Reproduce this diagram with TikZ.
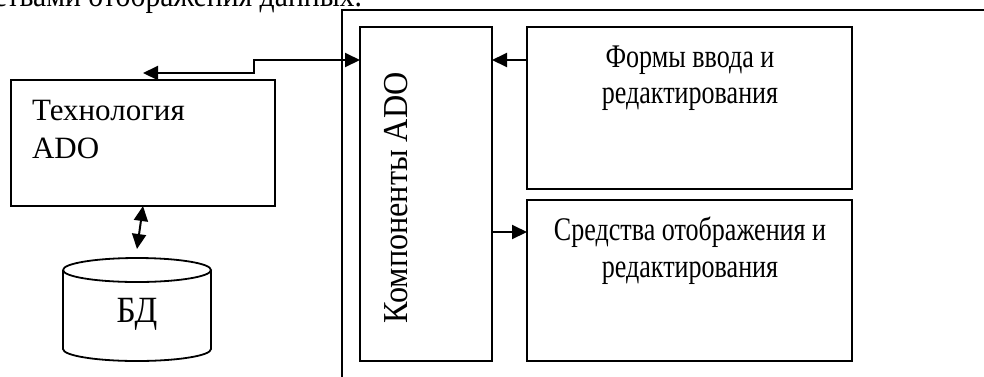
\documentclass[tikz,border=0pt]{standalone}
\usepackage{fontspec}
\setmainfont{Liberation Serif}
\usetikzlibrary{arrows.meta}
\newcommand{\sx}[2]{\scalebox{#1}[1]{#2}}
\begin{document}
\begin{tikzpicture}[x=1pt,y=-1pt,
  box/.style={draw,line width=1.8pt,inner sep=0pt,outer sep=0pt},
  lbl/.style={inner sep=0pt,outer sep=0pt,font=\fontsize{33}{37}\selectfont,anchor=base},
  arr/.style={line width=2pt,-{Triangle[length=15pt,width=14pt]}},
  dbl/.style={line width=2pt,{Triangle[length=15pt,width=14pt]}-{Triangle[length=15pt,width=14pt]}}]
\useasboundingbox (0,0) rectangle (984,376);
\clip (0,0) rectangle (984,376);
% cut-off text at top
\node[lbl,anchor=base east] (toptxt) at (362,6) {\sx{0.9}{ствами отображения данных.}};
% outer frame (cut by the page)
\draw[line width=1.8pt] (1100,10) -- (342,10) -- (342,400);
% boxes
\node[box,minimum width=264pt,minimum height=126pt] (tech) at (143,143) {};
\node[lbl,anchor=base west,font=\fontsize{31}{37}\selectfont] (tech1) at (32,120) {Технология};
\node[lbl,anchor=base west,font=\fontsize{31}{37}\selectfont] (tech2) at (32,158) {ADO};
\node[box,minimum width=132pt,minimum height=334pt] (comp) at (426,194) {};
\node[lbl,rotate=90,font=\fontsize{35}{37}\selectfont] (comptxt) at (407,198) {\sx{0.92}{Компоненты ADO}};
\node[box,minimum width=325pt,minimum height=162pt] (forms) at (689.5,108) {};
\node[lbl] (forms1) at (690,67) {\sx{0.79}{Формы ввода и}};
\node[lbl] (forms2) at (690,103) {\sx{0.79}{редактирования}};
\node[box,minimum width=325pt,minimum height=161pt] (sred) at (689.5,280.5) {};
\node[lbl] (sred1) at (690,240) {\sx{0.79}{Средства отображения и}};
\node[lbl] (sred2) at (690,277) {\sx{0.79}{редактирования}};
% database cylinder
\node[inner sep=0pt,outer sep=0pt,minimum width=148pt,minimum height=103pt] (bd) at (137,309.5) {};
\draw[line width=1.8pt] (63,270) arc[start angle=180,end angle=-180,x radius=74,y radius=12];
\draw[line width=1.8pt] (63,270) -- (63,349) arc[start angle=180,end angle=0,x radius=74,y radius=12] -- (211,270);
\node[lbl,font=\fontsize{37}{40}\selectfont] (bdtxt) at (137,322) {\sx{0.9}{БД}};
% connectors
\coordinate (y60) at (0,60);
\coordinate (y232) at (0,232);
\coordinate (techin) at (143,73);
\draw[dbl] (techin) -- (254,73) -- (254,60) -- (comp.west |- y60);
\draw[arr] (forms.west |- y60) -- (comp.east |- y60);
\draw[arr] (comp.east |- y232) -- (sred.west |- y232);
\draw[dbl] (tech.south) -- ([yshift=9pt]bd.north);
\end{tikzpicture}
\end{document}
